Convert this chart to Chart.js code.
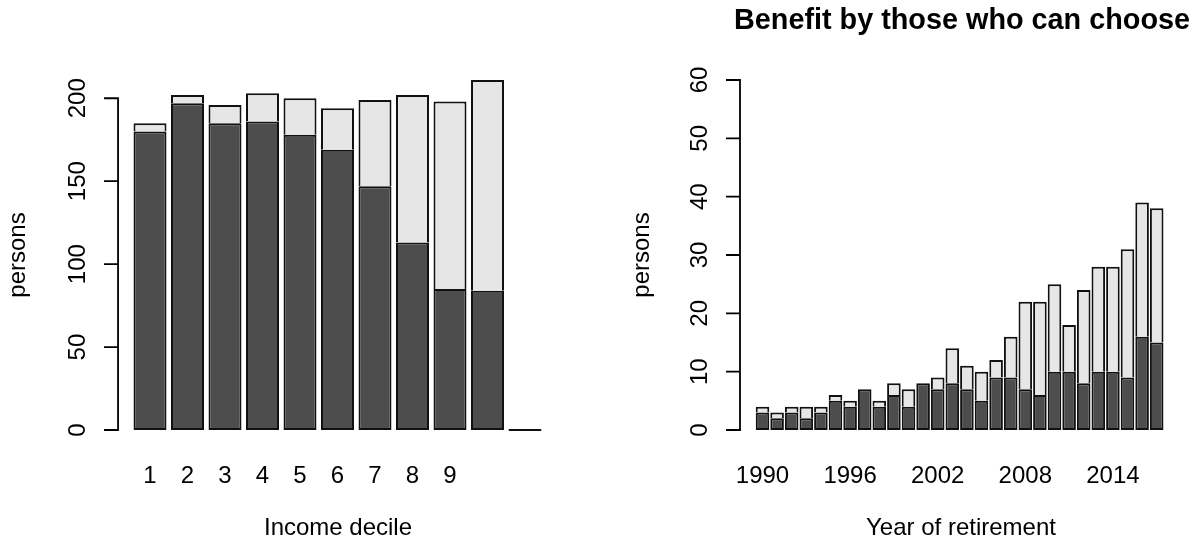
<!DOCTYPE html>
<html>
<head>
<meta charset="utf-8">
<script src="https://cdn.jsdelivr.net/npm/chart.js@4.4.1/dist/chart.umd.min.js"></script>
<style>
  html, body { margin: 0; padding: 0; background: #ffffff; }
  #wrap { position: relative; width: 1199px; height: 548px; overflow: hidden; }
  #left  { position: absolute; left: 0;     top: 0; }
  #right { position: absolute; left: 600px; top: 0; }
</style>
</head>
<body>
<div id="wrap">
  <canvas id="left" width="600" height="548"></canvas>
  <canvas id="right" width="599" height="548"></canvas>
</div>
<script>
// Income deciles: persons who benefit (dark) and those who do not (light)
const decileCats   = ['1','2','3','4','5','6','7','8','9','10','11'];
const decileLabels = ['1','2','3','4','5','6','7','8','9','',''];
const decileBenefit = [180, 197, 185, 186, 178, 169, 147, 113, 85, 84, 0];
const decileOther   = [5, 5, 11, 17, 22, 25, 52, 89, 113, 127, 0];
const decileTicks   = [0, 50, 100, 150, 200];

// Year of retirement, among those who can choose
const years = ['1990','1991','1992','1993','1994','1995','1996','1997','1998','1999',
               '2000','2001','2002','2003','2004','2005','2006','2007','2008','2009',
               '2010','2011','2012','2013','2014','2015','2016','2017'];
const yearLabels = ['1990','','','','','','1996','','','','','','2002','','','','','',
                    '2008','','','','','','2014','','',''];
const yearBenefit = [3, 2, 3, 2, 3, 5, 4, 7, 4, 6, 4, 8, 7, 8, 7, 5, 9, 9, 7, 6, 10, 10, 8, 10, 10, 9, 16, 15];
const yearOther   = [1, 1, 1, 2, 1, 1, 1, 0, 1, 2, 3, 0, 2, 6, 4, 5, 3, 7, 15, 16, 15, 8, 16, 18, 18, 22, 23, 23];
const yearTicks   = [0, 10, 20, 30, 40, 50, 60];

const FONT = '"Liberation Sans", Arial, Helvetica, sans-serif';
const DARK = '#4d4d4d';
const LIGHT = '#e6e6e6';
const EDGE = '#111111';

// Base-graphics style axes: a y axis spanning only the tick range, rotated
// tick labels, bar names below, axis titles and an optional main title.
const baseAxes = {
  id: 'baseAxes',
  afterDraw(chart, args, o) {
    const { ctx, chartArea } = chart;
    const xs = chart.scales.x, ys = chart.scales.y;
    const ax = chartArea.left - o.axisGap;
    ctx.save();
    ctx.strokeStyle = '#000';
    ctx.lineWidth = 1.8;
    ctx.beginPath();
    const yTop = ys.getPixelForValue(o.ticks[o.ticks.length - 1]);
    const yBot = ys.getPixelForValue(o.ticks[0]);
    ctx.moveTo(ax, yBot); ctx.lineTo(ax, yTop);
    o.ticks.forEach(v => {
      const p = ys.getPixelForValue(v);
      ctx.moveTo(ax - o.tickLen, p); ctx.lineTo(ax + 0.9, p);
    });
    ctx.stroke();

    ctx.fillStyle = '#000';
    ctx.font = '24px ' + FONT;
    ctx.textAlign = 'center';
    ctx.textBaseline = 'middle';
    o.ticks.forEach(v => {
      ctx.save();
      ctx.translate(ax - o.labelOff, ys.getPixelForValue(v));
      ctx.rotate(-Math.PI / 2);
      ctx.fillText(String(v), 0, 0);
      ctx.restore();
    });

    o.names.forEach((t, i) => {
      if (t) ctx.fillText(t, xs.getPixelForValue(i), o.namesY);
    });

    ctx.fillText(o.xTitle, o.xTitleX, o.xTitleY);
    ctx.save();
    ctx.translate(ax - o.yTitleOff, (chartArea.top + chartArea.bottom) / 2);
    ctx.rotate(-Math.PI / 2);
    ctx.fillText(o.yTitle, 0, 0);
    ctx.restore();

    if (o.main) {
      ctx.font = 'bold ' + o.mainSize + 'px ' + FONT;
      ctx.fillText(o.main, o.mainX, o.mainY);
    }
    ctx.restore();
  }
};

function barConfig(cats, benefit, other, yMin, yMax, padding, axesOpts, barPct, minLen) {
  return {
    type: 'bar',
    data: {
      labels: cats,
      datasets: [
        { data: benefit, backgroundColor: DARK, borderColor: EDGE, borderWidth: 2,
          borderSkipped: false, minBarLength: minLen },
        { data: other, backgroundColor: LIGHT, borderColor: EDGE, borderWidth: 2,
          borderSkipped: 'start' }
      ]
    },
    options: {
      responsive: false,
      animation: false,
      events: [],
      layout: { padding },
      datasets: { bar: { categoryPercentage: 1.0, barPercentage: barPct } },
      scales: {
        x: { type: 'category', display: false, stacked: true },
        y: { display: false, stacked: true, min: yMin, max: yMax }
      },
      plugins: {
        legend: { display: false },
        tooltip: { enabled: false },
        title: { display: false },
        baseAxes: axesOpts
      }
    },
    plugins: [baseAxes]
  };
}

new Chart(document.getElementById('left'), barConfig(
  decileCats, decileBenefit, decileOther, -8.44, 219.44,
  { left: 131.25, right: 56.25, top: 66, bottom: 104 },
  { ticks: decileTicks, names: decileLabels, axisGap: 13.2, tickLen: 14, labelOff: 40,
    namesY: 476, xTitle: 'Income decile', xTitleX: 338, xTitleY: 528,
    yTitle: 'persons', yTitleOff: 100 },
  0.88, 2
));

new Chart(document.getElementById('right'), barConfig(
  years, yearBenefit, yearOther, -2.4, 62.4,
  { left: 155.2, right: 35, top: 66, bottom: 104 },
  { ticks: yearTicks, names: yearLabels, axisGap: 15.2, tickLen: 14, labelOff: 40,
    namesY: 476, xTitle: 'Year of retirement', xTitleX: 361, xTitleY: 528,
    yTitle: 'persons', yTitleOff: 98,
    main: 'Benefit by those who can choose', mainSize: 28.8, mainX: 362, mainY: 21 },
  0.93, 0
));
</script>
</body>
</html>
